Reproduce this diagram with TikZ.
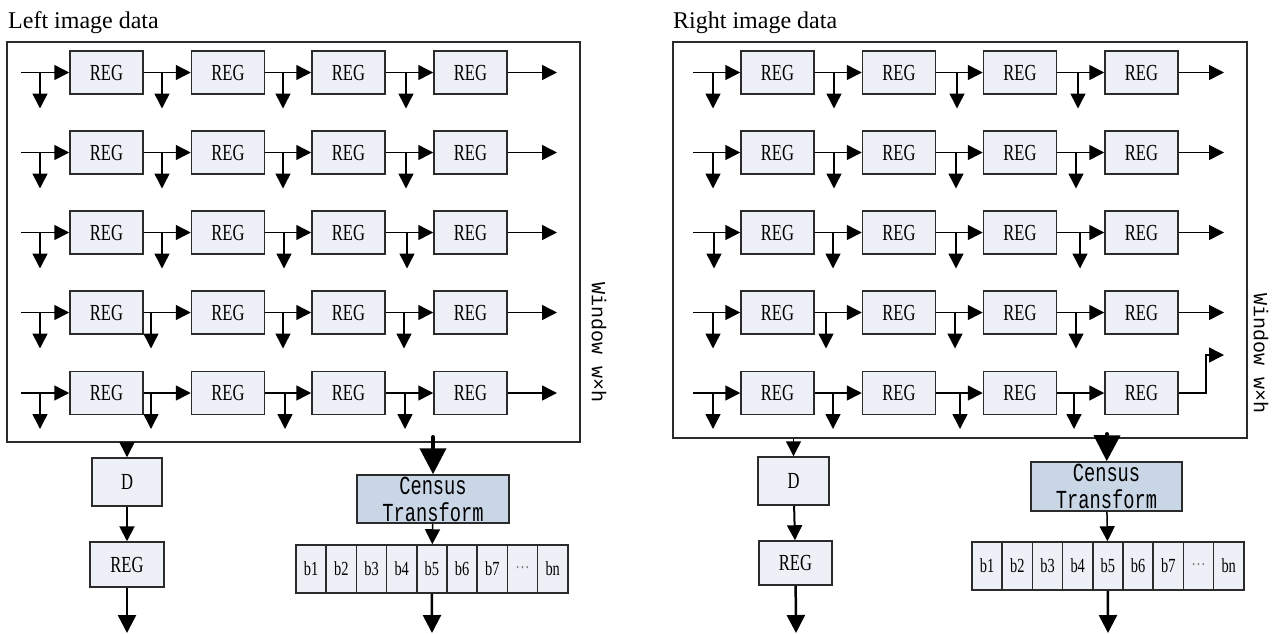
\documentclass[tikz,border=0pt]{standalone}
\usepackage{fontspec}
\setmainfont{Liberation Serif}
\newfontfamily\regfont[FakeStretch=0.72]{Liberation Serif}
\newfontfamily\cenfont[FakeStretch=0.72]{Liberation Mono}
\newfontfamily\winfont{Liberation Mono}
\usetikzlibrary{arrows.meta}
\definecolor{regfill}{HTML}{EDF0F6}
\definecolor{cenfill}{HTML}{C9D6E6}
\definecolor{edge}{HTML}{2B2B2B}
\tikzset{
  regbox/.style={draw=edge, line width=1.5pt, fill=regfill, inner sep=0pt,
    minimum width=73pt, minimum height=43pt, font=\regfont\fontsize{23}{23}\selectfont},
  bitcell/.style={draw=edge, line width=1.5pt, fill=regfill, inner sep=0pt,
    minimum width=30.2pt, minimum height=48pt, font=\regfont\fontsize{20}{20}\selectfont},
  cenbox/.style={draw=edge, line width=1.5pt, fill=cenfill, inner sep=0pt, align=center,
    font=\cenfont\fontsize{26}{27}\selectfont},
  panel/.style={draw=edge, line width=1.5pt, inner sep=0pt},
  wire/.style={line width=1.5pt, -{Triangle[length=15pt,width=15pt]}},
  outwire/.style={line width=2.5pt, -{Triangle[length=18pt,width=18pt]}},
  bus/.style={line width=4pt, line cap=round, -{Triangle[length=26pt,width=26pt]}},
  title/.style={anchor=base west, inner sep=0pt, font=\fontsize{24}{24}\selectfont},
  wintext/.style={rotate=-90, inner sep=0pt, font=\winfont\fontsize{20}{20}\selectfont},
}
\begin{document}
\begin{tikzpicture}[x=1pt, y=-1pt]
\useasboundingbox (0,0) rectangle (1278,633);

% ---------------- left half: left image ----------------
\node[title] (LT) at (8,28) {Left image data};
\node[panel, minimum width=573pt, minimum height=400pt] (LF) at (293.5,242) {};
\node[wintext] (LW) at (599,343) {Window w×h};

\foreach \r/\y/\ba/\bb/\bc/\bd in {1/72.5/40/162/283/406, 2/152.5/40/162/283/406,
    3/232.5/40/162/284/407, 4/312.5/40/151/283/404, 5/393/40/151/285/405} {
  \node[regbox] (L\r-a) at (106.5,\y) {REG};
  \node[regbox] (L\r-b) at (228,\y) {REG};
  \node[regbox] (L\r-c) at (348.5,\y) {REG};
  \node[regbox] (L\r-d) at (470.5,\y) {REG};
  \coordinate (L\r-in) at (21,\y);
  \coordinate (L\r-out) at (557,\y);
  \coordinate (L\r-t1) at (\ba,\y+36);
  \coordinate (L\r-t2) at (\bb,\y+36);
  \coordinate (L\r-t3) at (\bc,\y+36);
  \coordinate (L\r-t4) at (\bd,\y+36);
  \draw[wire] (L\r-in) -- (L\r-a);
  \draw[wire] (L\r-a) -- (L\r-b);
  \draw[wire] (L\r-b) -- (L\r-c);
  \draw[wire] (L\r-c) -- (L\r-d);
  \draw[wire] (L\r-d) -- (L\r-out);
  \draw[wire] (L\r-t1 |- L\r-in) -- (L\r-t1);
  \draw[wire] (L\r-t2 |- L\r-in) -- (L\r-t2);
  \draw[wire] (L\r-t3 |- L\r-in) -- (L\r-t3);
  \draw[wire] (L\r-t4 |- L\r-in) -- (L\r-t4);
}

% delay path
\node[regbox, minimum width=70pt, minimum height=48pt] (LD) at (127,482) {D};
\node[regbox, minimum width=74pt, minimum height=45pt] (LR) at (127,564.5) {REG};
\coordinate (LRo) at (127,633);
\draw[wire] (LD.north |- LF.south) -- (LD.north);
\draw[wire, line width=2pt] (LD) -- (LR);
\draw[outwire] (LR) -- (LRo);

% census transform path
\node[cenbox, minimum width=152pt, minimum height=48pt] (LC) at (433,499) {Census\\Transform};
\coordinate (LCi) at (433,437);
\draw[bus] (LCi) -- (LC);
\foreach \i/\t in {1/b1,2/b2,3/b3,4/b4,5/b5,6/b6,7/b7,8/{\color{gray}\raisebox{4pt}{…}},9/bn}
  \node[bitcell] (Lb\i) at ({296+30.2*(\i-0.5)},569) {\t};
\coordinate (Lbo) at (432,633);
\draw[wire] (LC) -- (Lb5);
\draw[outwire] (Lb5) -- (Lbo);

% ---------------- right half: right image ----------------
\node[title] (RT) at (673,28) {Right image data};
\node[panel, minimum width=574pt, minimum height=396pt] (RF) at (960,240) {};
\node[wintext] (RW) at (1261,354) {Window w×h};

\foreach \r/\y/\ba/\bb/\bc/\bd in {1/72.5/713/834/957/1078, 2/152.5/713/834/956/1076,
    3/232.5/714/833/956/1080, 4/312.5/713/826/955/1076, 5/393/713/833/960/1074} {
  \node[regbox] (R\r-a) at (777.5,\y) {REG};
  \node[regbox] (R\r-b) at (899,\y) {REG};
  \node[regbox] (R\r-c) at (1020,\y) {REG};
  \node[regbox] (R\r-d) at (1141.5,\y) {REG};
  \coordinate (R\r-in) at (693,\y);
  \coordinate (R\r-out) at (1224,\y);
  \coordinate (R\r-t1) at (\ba,\y+36);
  \coordinate (R\r-t2) at (\bb,\y+36);
  \coordinate (R\r-t3) at (\bc,\y+36);
  \coordinate (R\r-t4) at (\bd,\y+36);
  \draw[wire] (R\r-in) -- (R\r-a);
  \draw[wire] (R\r-a) -- (R\r-b);
  \draw[wire] (R\r-b) -- (R\r-c);
  \draw[wire] (R\r-c) -- (R\r-d);
  \draw[wire] (R\r-t1 |- R\r-in) -- (R\r-t1);
  \draw[wire] (R\r-t2 |- R\r-in) -- (R\r-t2);
  \draw[wire] (R\r-t3 |- R\r-in) -- (R\r-t3);
  \draw[wire] (R\r-t4 |- R\r-in) -- (R\r-t4);
}
\foreach \r in {1,2,3,4}
  \draw[wire] (R\r-d) -- (R\r-out);
% last row leaves with a step up
\coordinate (R5-knee) at (1206,393);
\coordinate (R5-up) at (1224,355);
\draw[wire] (R5-d.east) -- (R5-knee) |- (R5-up);

% delay path
\node[regbox, minimum width=71pt, minimum height=48pt] (RD) at (793.5,481) {D};
\node[regbox, minimum width=73pt, minimum height=44pt] (RR) at (795.5,563) {REG};
\coordinate (RRo) at (796,633);
\draw[wire] (RD.north |- RF.south) -- (RD.north);
\draw[wire, line width=2pt] (RD) -- (RR);
\draw[outwire] (RR) -- (RRo);

% census transform path
\node[cenbox, minimum width=151pt, minimum height=49pt] (RC) at (1106.5,486.5) {Census\\Transform};
\coordinate (RCi) at (1107,434);
\draw[bus] (RCi) -- (RC);
\foreach \i/\t in {1/b1,2/b2,3/b3,4/b4,5/b5,6/b6,7/b7,8/{\color{gray}\raisebox{4pt}{…}},9/bn}
  \node[bitcell] (Rb\i) at ({972+30.2*(\i-0.5)},566) {\t};
\coordinate (Rbo) at (1108,633);
\draw[wire] (RC) -- (Rb5);
\draw[outwire] (Rb5) -- (Rbo);
\end{tikzpicture}
\end{document}
